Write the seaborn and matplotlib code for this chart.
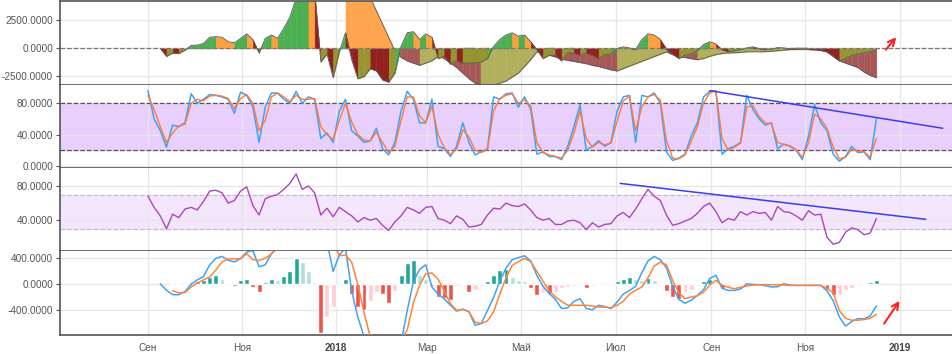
import numpy as np
import pandas as pd
import seaborn as sns
import matplotlib.pyplot as plt

nan = np.nan

# ---- data (one value every 4 days from 2017-09-01) ----
start_date = "2017-09-01"
step_days = 4

wave = [nan, nan, 0, -700, -400, -450, -150, 280, 300, 450,
        1000, 1050, 1000, 600, 500, 900, 1300, 800, -400, 900,
        1200, 900, 1800, 2800, 4500, 6000, 7000, 5000, -1200, -500,
        -2600, -300, 1400, -1000, -2700, -2500, -1800, -2000, -2800, -3000,
        -2200, 200, 1400, 1500, 800, 1300, 1000, -900, -700, -1400,
        -1100, -1300, -1300, -1300, -1200, -900, 200, 800, 1200, 1400,
        1100, 1200, 600, -100, -900, -600, -600, -1100, -400, -400,
        -600, -400, -600, -900, -550, -500, 0, 150, 50, -100,
        800, 1300, 1200, 800, -50, -500, -900, -600, -500, -200,
        350, 600, 400, -100, -300, -200, -100, 50, 150, -20,
        -100, -50, 80, 50, -30, -50, -50, -50, -80, -120,
        -300, -700, -1100, -900, -650, -500, -400, -300, -100]

# slow envelope drawn under the wave (gaps are bridged by straight edges)
envelope = [nan] * 32 + [9300] + [nan] * 7 + [
    -200, -800, -1100, -1300, -1500, -1300, -1100, -700, -900, -1300,
    -1700, -2200, -2700, -3100, -3300, -3300, -3300, nan, -2900, nan,
    -2200, nan, -1000, -300, -400, -600, -750, -950, -1050, -1150,
    -1250, -1350, -1500, -1600, -1750, -1900, -2000, nan, nan, nan,
    nan, nan, nan, nan, -300, -550, -750, -800, -900, -1000,
    -900, -700, -550, -450, -400, -380, -350, -300, -300, -300,
    -280, -250, -200, -150, -100, -100, -100, -100, -120, -180,
    -300, -700, -1100, -1300, -1500, -1700, -2100, -2400, -2600]

stoch_k = [96, 60, 45, 24, 52, 50, 55, 92, 80, 85,
           91, 90, 88, 85, 67, 94, 90, 75, 30, 75,
           93, 93, 85, 80, 95, 80, 88, 85, 35, 42,
           30, 70, 85, 45, 38, 30, 32, 48, 22, 14,
           30, 70, 95, 85, 55, 55, 85, 25, 22, 12,
           25, 55, 30, 14, 18, 22, 88, 85, 92, 93,
           75, 88, 72, 15, 18, 12, 12, 8, 25, 50,
           78, 20, 25, 32, 25, 30, 70, 88, 90, 30,
           90, 88, 93, 80, 18, 7, 10, 15, 38, 55,
           88, 95, 96, 15, 22, 25, 30, 90, 72, 60,
           52, 55, 22, 28, 25, 20, 8, 38, 78, 55,
           45, 15, 6, 12, 25, 17, 18, 8, 60]

stoch_d = [90, 72, 50, 30, 42, 51, 53, 80, 85, 83,
           89, 90, 89, 86, 73, 86, 91, 80, 45, 58,
           88, 93, 88, 82, 90, 85, 85, 86, 50, 40,
           34, 58, 80, 56, 40, 33, 32, 43, 30, 17,
           25, 58, 88, 88, 64, 55, 76, 40, 23, 15,
           21, 46, 37, 20, 17, 21, 70, 86, 90, 92,
           80, 84, 77, 30, 17, 14, 12, 10, 20, 42,
           70, 35, 24, 30, 27, 29, 57, 83, 89, 45,
           75, 88, 91, 84, 32, 10, 9, 14, 31, 50,
           80, 93, 96, 35, 20, 24, 29, 75, 77, 63,
           55, 54, 30, 27, 26, 21, 11, 29, 66, 60,
           48, 24, 9, 11, 21, 19, 18, 11, 35]

rsi = [68, 55, 45, 30, 47, 43, 53, 55, 52, 62,
       74, 75, 72, 60, 63, 74, 79, 57, 46, 65,
       68, 70, 76, 83, 94, 76, 80, 72, 46, 54,
       44, 55, 50, 45, 38, 43, 40, 42, 34, 28,
       38, 45, 55, 52, 48, 55, 56, 42, 40, 36,
       45, 41, 32, 33, 35, 46, 54, 53, 60, 57,
       56, 59, 52, 43, 40, 42, 35, 35, 39, 40,
       37, 29, 37, 32, 35, 36, 45, 49, 43, 53,
       65, 76, 68, 63, 46, 34, 36, 39, 42, 48,
       56, 60, 50, 37, 42, 40, 50, 46, 50, 48,
       49, 40, 56, 50, 49, 45, 40, 51, 46, 47,
       20, 12, 14, 26, 31, 29, 23, 25, 42]

macd = [nan, nan, 10, -90, -158, -158, -110, 0, 70, 120,
        300, 400, 430, 370, 345, 395, 495, 520, 270, 300,
        470, 560, 800, 1100, 1500, 1700, 1600, 1200, 900, 650,
        200, 450, 560, -100, -500, -800, -1000, -1100, -1150, -1100,
        -1000, -900, -400, 40, 230, 300, -40, -150, -220, -320,
        -410, -380, -420, -627, -600, -400, -200, 50, 250, 380,
        410, 440, 360, 138, -30, -140, -230, -370, -360, -260,
        -220, -370, -390, -321, -340, -372, -270, -150, -95, -30,
        180, 360, 430, 380, 250, -30, -230, -290, -245, -170,
        -80, 90, 138, -60, -92, -92, -70, 10, 0, -5,
        -20, -40, -35, 10, -10, -15, -15, -15, -15, -15,
        -100, -250, -500, -640, -570, -525, -530, -485, -330]

signal = [nan, nan, nan, nan, -95, -130, -125, -40, 20, 70,
          112, 220, 345, 390, 393, 393, 470, 380, 367, 400,
          470, 560, 700, 900, 1100, 1300, 1400, 1350, 1200, 950,
          650, 440, 450, 340, 0, -430, -800, -950, -1000, -1000,
          -950, -850, -700, -280, -15, 163, 175, 80, -100, -296,
          -398, -383, -420, -580, -600, -560, -420, -150, 100, 290,
          350, 400, 350, 200, 50, -100, -190, -260, -321, -321,
          -321, -321, -330, -347, -350, -357, -320, -260, -150, -90,
          -40, 100, 280, 342, 300, 60, -130, -219, -194, -175,
          -120, -10, 61, -10, -45, -66, -45, -25, -10, -5,
          -5, -5, -5, -10, -15, -15, -15, -15, -15, -15,
          -60, -130, -400, -520, -550, -550, -540, -520, -460]

hist = [nan, nan, nan, nan, 0, -15, 10, 40, 50, 70,
        110, 150, 90, 20, -20, 60, 90, -40, -110, 40,
        80, 60, 130, 200, 400, 350, 200, 30, -750, -500,
        -350, 0, 90, -150, -350, -400, -250, -120, -150, -280,
        -100, 150, 330, 380, 140, 90, -20, -200, -210, -240,
        -30, 20, -110, -90, -30, 50, 150, 220, 240, 120,
        70, 50, -60, -160, -130, -150, -110, -60, -40, -30,
        -10, -50, -20, -10, 10, 15, 50, 80, 110, 90,
        60, 100, 60, 20, -100, -200, -230, -110, -80, 10,
        50, 80, 40, -50, -40, -20, 10, 20, 15, 10,
        -5, -10, 5, 10, -5, 5, 10, -5, 5, 10,
        -90, -160, -160, -90, -50, 10, 20, 30, 60]

stoch_trend_dates = ["2018-08-31", "2019-01-29"]
stoch_trend_vals = [96, 48]
rsi_trend_dates = ["2018-07-04", "2019-01-18"]
rsi_trend_vals = [83, 41]

tick_dates = ["2017-09-01", "2017-11-01", "2018-01-01", "2018-03-01", "2018-05-01",
              "2018-07-01", "2018-09-01", "2018-11-01", "2019-01-01"]
tick_labels = ["Сен", "Ноя", "2018", "Мар", "Май", "Июл", "Сен", "Ноя", "2019"]

dates = pd.date_range(start_date, periods=len(wave), freq=f"{step_days}D")
df = pd.DataFrame({"date": dates, "wave": wave, "env": envelope, "k": stoch_k,
                   "d": stoch_d, "rsi": rsi, "macd": macd, "signal": signal,
                   "hist": hist})

# ---- style ----
sns.set_theme(style="white")
plt.rcParams["font.family"] = ["Liberation Sans", "DejaVu Sans"]
GRID = "#e6e6e6"
SPINE = "#555555"

fig, axes = plt.subplots(4, 1, sharex=True, figsize=(9.52, 3.54), dpi=100,
                         gridspec_kw=dict(hspace=0))
fig.subplots_adjust(left=0.063, right=1.0, top=0.997, bottom=0.054)


def fill_segments(ax, s, pal, use_start, z):
    """Remplit chaque segment vers 0, couleur selon signe et sens de variation.
    pal = (positif montant, positif descendant, negatif descendant, negatif montant)"""
    s = s.dropna()
    xs, vs = list(s.index), list(s.values)
    for i in range(1, len(vs)):
        a, b = vs[i - 1], vs[i]
        ref = a if use_start else b
        if ref >= 0:
            c = pal[0] if b >= a else pal[1]
        else:
            c = pal[2] if b < a else pal[3]
        ax.fill_between([xs[i - 1], xs[i]], [a, b], 0, color=c, lw=0.3,
                        edgecolor=c, zorder=z)
    ax.plot(xs, vs, color="#5a5a5a", lw=0.6, zorder=z + 0.5)


# panel 1: momentum wave
ax = axes[0]
s_env = df.set_index("date")["env"]
s_wave = df.set_index("date")["wave"]
fill_segments(ax, s_env, ("#ffa54f", "#ffa54f", "#a65858", "#b2b05c"), True, 1)
fill_segments(ax, s_wave, ("#4caf50", "#ffa040", "#93201f", "#97952f"), False, 2)
ax.axhline(0, color="#777777", ls="--", lw=0.9, zorder=3)
ax.set_ylim(-3215, 4225)
ax.set_yticks([-2500, 0, 2500])
ax.annotate("", xy=(pd.Timestamp("2018-12-31"), 1190),
            xytext=(pd.Timestamp("2018-12-22"), -300),
            arrowprops=dict(arrowstyle="->", color="#ff2020", lw=1.5))

# panel 2: stochastic
ax = axes[1]
ax.axhspan(20, 80, color="#e9d0fc", zorder=0.5)
for lvl in (20, 80):
    ax.axhline(lvl, color="#555555", ls="--", lw=0.9)
sns.lineplot(data=df, x="date", y="k", ax=ax, color="#3fa3f5", lw=1.1)
sns.lineplot(data=df, x="date", y="d", ax=ax, color="#ff7a3c", lw=1.0)
ax.plot(pd.to_datetime(stoch_trend_dates), stoch_trend_vals, color="#3c3cf2", lw=1.1)
ax.set_ylim(-2.6, 103.8)
ax.set_yticks([0, 40, 80])

# panel 3: RSI
ax = axes[2]
ax.axhspan(30, 70, color="#f4e6fd", zorder=0.5)
for lvl in (30, 70):
    ax.axhline(lvl, color="#c9b7d7", ls="--", lw=0.9)
sns.lineplot(data=df, x="date", y="rsi", ax=ax, color="#ab47bc", lw=1.0)
ax.plot(pd.to_datetime(rsi_trend_dates), rsi_trend_vals, color="#3c3cf2", lw=1.1)
ax.set_ylim(3.5, 101)
ax.set_yticks([40, 80])

# panel 4: MACD
ax = axes[3]
h = df["hist"].values
hcol = []
for i, v in enumerate(h):
    prev = h[i - 1] if i > 0 and not np.isnan(h[i - 1]) else 0
    if v >= 0:
        hcol.append("#26a69a" if v >= prev else "#b2dfdb")
    else:
        hcol.append("#ef5350" if v < prev else "#ffcdd2")
ax.bar(df["date"], df["hist"], width=3.2, color=hcol, zorder=2)
sns.lineplot(data=df.dropna(subset=["macd"]), x="date", y="macd", ax=ax,
             color="#3fa3f5", lw=1.1, zorder=3)
sns.lineplot(data=df.dropna(subset=["signal"]), x="date", y="signal", ax=ax,
             color="#ff8438", lw=1.1, zorder=3)
ax.set_ylim(-775, 506)
ax.set_yticks([-400, 0, 400])
ax.annotate("", xy=(pd.Timestamp("2019-01-02"), -218),
            xytext=(pd.Timestamp("2018-12-21"), -637),
            arrowprops=dict(arrowstyle="->", color="#ff2020", lw=1.5))

# ---- common axes styling ----
tick_dt = pd.to_datetime(tick_dates)
for i, ax in enumerate(axes):
    ax.set_xlim(pd.Timestamp("2017-07-06"), pd.Timestamp("2019-02-04"))
    ax.set_xticks(tick_dt)
    ax.grid(True, color=GRID, lw=0.9)
    ax.set_axisbelow(True)
    ax.set_xlabel("")
    ax.set_ylabel("")
    ax.yaxis.set_major_formatter(plt.FuncFormatter(lambda v, p: f"{v:.4f}"))
    ax.tick_params(axis="y", length=3, width=0.8, color=SPINE, labelsize=7.2,
                   labelcolor="#555555", pad=2, left=True)
    ax.tick_params(axis="x", length=0, labelsize=7.2, labelcolor="#555555", pad=6)
    for side in ("left", "bottom", "top"):
        ax.spines[side].set_color(SPINE)
        ax.spines[side].set_linewidth(1.2)
    ax.spines["right"].set_visible(False)
    if i > 0:
        ax.spines["top"].set_visible(False)

axes[-1].set_xticklabels(tick_labels)
for lab in axes[-1].get_xticklabels():
    if lab.get_text().startswith("20"):
        lab.set_fontweight("bold")
        lab.set_color("#444444")

fig.savefig("out.png", dpi=100)
